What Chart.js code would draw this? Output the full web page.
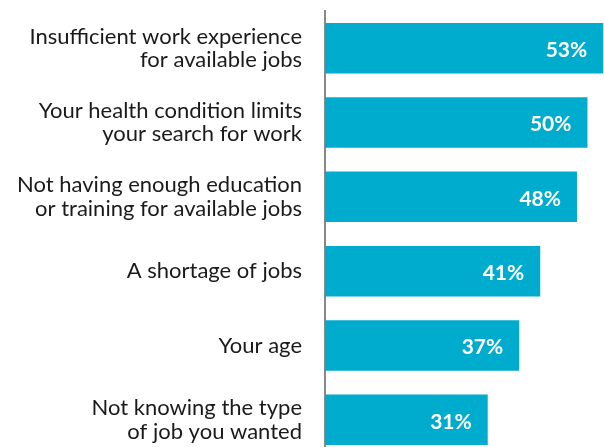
<!DOCTYPE html>
<html>
<head>
<meta charset="utf-8">
<script src="https://cdn.jsdelivr.net/npm/chart.js@4.4.1/dist/chart.umd.min.js"></script>
<style>
  html, body { margin: 0; padding: 0; background: #fff; overflow: hidden; }
  #wrap { width: 604px; height: 460px; }
</style>
</head>
<body>
<div id="wrap"><canvas id="barriers" width="604" height="460"></canvas></div>
<script>
// reasons given, top to bottom, each split into its printed lines
const reasons = [
    ['Insufficient work experience', 'for available jobs'],
    ['Your health condition limits', 'your search for work'],
    ['Not having enough education', 'or training for available jobs'],
    'A shortage of jobs',
    'Your age',
    ['Not knowing the type', 'of job you wanted']
];
const shares = [53, 50, 48, 41, 37, 31];

const barColor = 'rgb(0, 172, 205)';
const fontFamily = 'Lato, "Open Sans", sans-serif';

// white percentage printed inside the end of each bar
const valueLabels = {
    id: 'valueLabels',
    afterDatasetsDraw(chart) {
        const ctx = chart.ctx;
        const meta = chart.getDatasetMeta(0);
        ctx.save();
        ctx.font = 'bold 21px ' + fontFamily;
        ctx.fillStyle = '#ffffff';
        ctx.textAlign = 'right';
        ctx.textBaseline = 'middle';
        meta.data.forEach((bar, i) => {
            ctx.fillText(shares[i] + '%', bar.x - 16, bar.y + 2);
        });
        ctx.restore();
    }
};

const ctx = document.getElementById('barriers').getContext('2d');
const chart = new Chart(ctx, {
    type: 'bar',
    data: {
        labels: reasons,
        datasets: [{
            data: shares,
            backgroundColor: barColor,
            borderWidth: 0,
            categoryPercentage: 1,
            barPercentage: 0.68
        }]
    },
    options: {
        indexAxis: 'y',
        responsive: false,
        animation: false,
        layout: { padding: { top: 11, bottom: 3, right: 0, left: 0 } },
        plugins: {
            legend: { display: false },
            tooltip: { enabled: false }
        },
        scales: {
            x: {
                display: false,
                min: 0,
                max: 53.15
            },
            y: {
                afterFit(scale) {
                    scale.width = 325;
                    scale.paddingTop = 0;
                    scale.paddingBottom = 0;
                },
                grid: { display: false, drawTicks: false },
                border: { display: true, color: '#888888', width: 2 },
                ticks: {
                    padding: 23,
                    color: '#1a1a1a',
                    font: { family: fontFamily, size: 22, lineHeight: 1.06 }
                }
            }
        }
    },
    plugins: [valueLabels]
});
</script>
</body>
</html>
